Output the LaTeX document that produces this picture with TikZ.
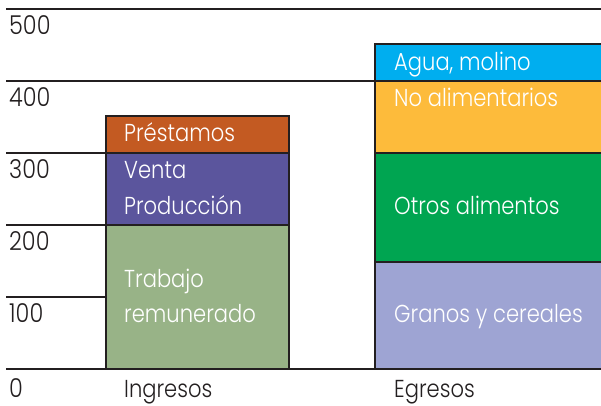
\documentclass[tikz,border=0pt]{standalone}
\usepackage{fontspec}
\IfFontExistsTF{Poppins Light}{\setmainfont{Poppins Light}[FakeStretch=0.86]}{\setmainfont{Poppins}[FakeStretch=0.86]}
\definecolor{linecol}{HTML}{231F20}
\definecolor{prestc}{HTML}{C35A22}
\definecolor{ventac}{HTML}{5B559D}
\definecolor{trabc}{HTML}{98B387}
\definecolor{aguac}{HTML}{00AEEF}
\definecolor{noalc}{HTML}{FDBB3B}
\definecolor{otrosc}{HTML}{00A551}
\definecolor{granc}{HTML}{9EA4D3}
\tikzset{
  grid line/.style={draw=linecol, line width=2pt},
  seg/.style={draw=linecol, line width=2pt},
  axlabel/.style={anchor=base west, inner sep=0pt, text=linecol, font=\fontsize{24.5}{28}\selectfont},
  numlabel/.style={axlabel, font=\fontsize{26}{30}\selectfont},
  barlabel/.style={anchor=base west, inner sep=0pt, text=white, font=\fontsize{24.5}{28}\selectfont},
}
\begin{document}
\begin{tikzpicture}[x=1pt, y=-1pt]
\clip (0,0) rectangle (601,405);
\fill[white] (0,0) rectangle (601,405);
% grid lines
\draw[grid line] (6,9) -- (601,9);
\draw[grid line] (6,81) -- (375,81);
\draw[grid line] (6,153) -- (106,153);
\draw[grid line] (6,225) -- (106,225);
\draw[grid line] (6,297) -- (106,297);
% Ingresos bar
\filldraw[seg, fill=trabc] (106,225) rectangle (289,369);
\filldraw[seg, fill=ventac] (106,153) rectangle (289,225);
\filldraw[seg, fill=prestc] (106,116) rectangle (289,153);
% Egresos bar
\filldraw[seg, fill=granc] (375,262) rectangle (612,369);
\filldraw[seg, fill=otrosc] (375,153) rectangle (612,262);
\filldraw[seg, fill=noalc] (375,81) rectangle (612,153);
\filldraw[seg, fill=aguac] (375,44) rectangle (612,81);
% base line
\draw[grid line] (6,369) -- (601,369);
% axis labels
\node[numlabel] (l500) at (9,34) {500};
\node[numlabel] (l400) at (9,106) {400};
\node[numlabel] (l300) at (9,178) {300};
\node[numlabel] (l200) at (9,250) {200};
\node[numlabel] (l100) at (9,322) {100};
\node[numlabel] (l0) at (9,397) {0};
\node[axlabel] (ing) at (124,397) {Ingresos};
\node[axlabel] (egr) at (394,397) {Egresos};
% bar labels
\node[barlabel] (prest) at (124,141.5) {Préstamos};
\node[barlabel] (venta) at (124,178) {Venta};
\node[barlabel] (prod) at (124,214) {Producción};
\node[barlabel] (trab) at (124,287) {Trabajo};
\node[barlabel] (remu) at (124,322) {remunerado};
\node[barlabel] (agua) at (394,70) {Agua, molino};
\node[barlabel] (noal) at (394,106) {No alimentarios};
\node[barlabel] (otros) at (394,214) {Otros alimentos};
\node[barlabel] (gran) at (394,322) {Granos y cereales};
\end{tikzpicture}
\end{document}
